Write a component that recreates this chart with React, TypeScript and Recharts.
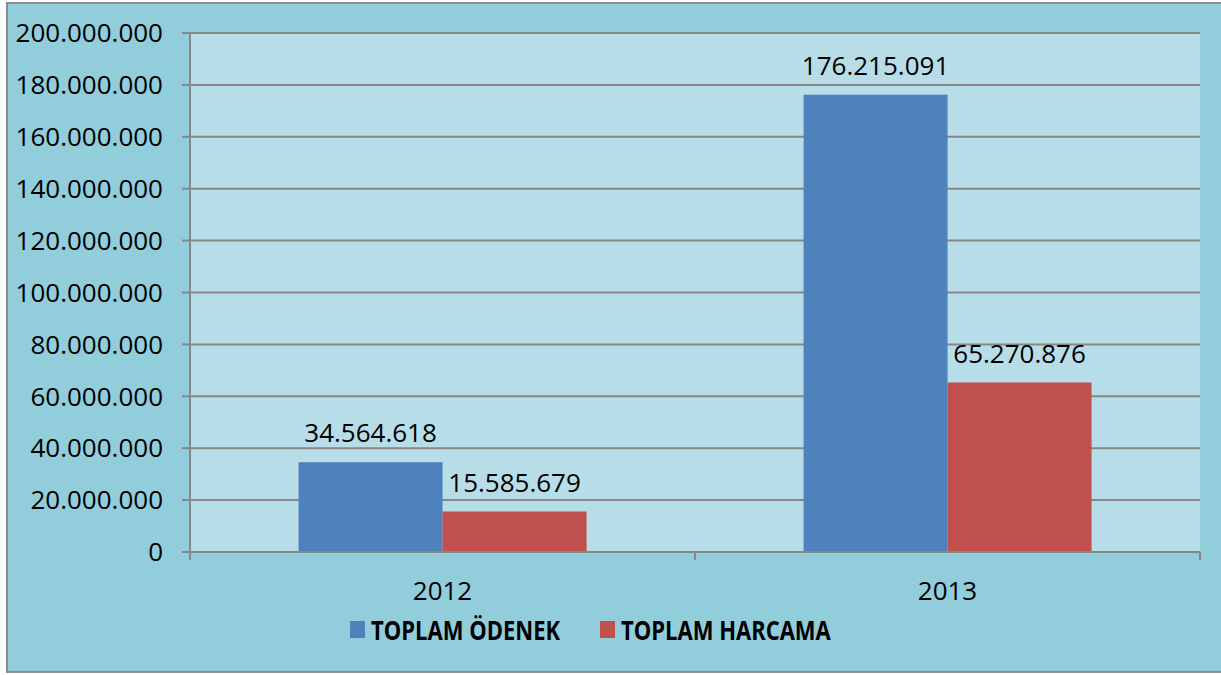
import React from 'react';
import { BarChart, Bar, XAxis, YAxis, CartesianGrid, LabelList } from 'recharts';

// values
const years = ['2012', '2013'];
const odenek = [34564618, 176215091];
const harcama = [15585679, 65270876];
const yTicks = [0, 20000000, 40000000, 60000000, 80000000, 100000000, 120000000, 140000000, 160000000, 180000000, 200000000];

const BLUE = '#4F81BD';
const RED = '#C0504D';
const OUTER_BG = '#92CDDC';
const PLOT_BG = '#B7DEE8';
const LINE = '#878787';
const FONT = '"Open Sans", sans-serif';

const TICK_SIZE = 8;
const TICK_MARGIN = 22;

const data = years.map((year, i) => ({
  year,
  odenek: odenek[i],
  harcama: harcama[i],
}));

// 34564618 -> 34.564.618
const fmt = (v: number) => String(Math.round(v)).replace(/\B(?=(\d{3})+(?!\d))/g, '.');

// category label with tick marks on the band edges, like Excel does
const YearTick = (props: any) => {
  const { x, y, payload, index, visibleTicksCount } = props;
  const half = payload?.offset ?? 0;
  const axisY = y - TICK_SIZE - TICK_MARGIN;
  const isLast = index === visibleTicksCount - 1;
  return (
    <g>
      <line x1={x - half} x2={x - half} y1={axisY} y2={axisY + TICK_SIZE} stroke={LINE} strokeWidth={2} />
      {isLast && (
        <line x1={x + half} x2={x + half} y1={axisY} y2={axisY + TICK_SIZE} stroke={LINE} strokeWidth={2} />
      )}
      <text x={x} y={y} dy="0.71em" textAnchor="middle" fill="#000" fontSize={26} fontFamily={FONT}>
        {payload.value}
      </text>
    </g>
  );
};

const legendItems = [
  { name: 'TOPLAM ÖDENEK', color: BLUE, left: 350 },
  { name: 'TOPLAM HARCAMA', color: RED, left: 600 },
];

export default function App() {
  return (
    <div style={{ position: 'absolute', left: 0, top: 0, width: 1221, height: 675, background: '#fff', overflow: 'hidden' }}>
      <div
        style={{
          position: 'absolute',
          left: 6,
          top: 2,
          width: 1230,
          height: 671,
          background: OUTER_BG,
          border: '2px solid #8c8c8c',
          boxSizing: 'border-box',
        }}
      />
      <div style={{ position: 'absolute', left: 0, top: 0 }}>
        <BarChart
          width={1221}
          height={675}
          data={data}
          margin={{ top: 33, right: 21, left: 0, bottom: 83 }}
          barCategoryGap="21.5%"
          barGap={0}
        >
          <CartesianGrid vertical={false} fill={PLOT_BG} fillOpacity={1} stroke={LINE} strokeWidth={2} />
          <XAxis
            dataKey="year"
            height={40}
            axisLine={{ stroke: LINE, strokeWidth: 2 }}
            tickLine={false}
            tickSize={TICK_SIZE}
            tickMargin={TICK_MARGIN}
            tick={<YearTick />}
            interval={0}
          />
          <YAxis
            width={190}
            domain={[0, 200000000]}
            ticks={yTicks}
            interval={0}
            tickFormatter={fmt}
            axisLine={{ stroke: LINE, strokeWidth: 2 }}
            tickLine={{ stroke: LINE, strokeWidth: 2 }}
            tickSize={TICK_SIZE}
            tickMargin={19}
            tick={{ fill: '#000', fontSize: 26, fontFamily: FONT }}
          />
          <Bar dataKey="odenek" name="TOPLAM ÖDENEK" fill={BLUE} isAnimationActive={false}>
            <LabelList dataKey="odenek" position="top" offset={20} formatter={fmt} fill="#000" fontSize={26} fontFamily={FONT} />
          </Bar>
          <Bar dataKey="harcama" name="TOPLAM HARCAMA" fill={RED} isAnimationActive={false}>
            <LabelList dataKey="harcama" position="top" offset={20} formatter={fmt} fill="#000" fontSize={26} fontFamily={FONT} />
          </Bar>
        </BarChart>
      </div>
      {legendItems.map((item) => (
        <div
          key={item.name}
          style={{
            position: 'absolute',
            left: item.left,
            top: 614,
            display: 'flex',
            alignItems: 'center',
            fontFamily: FONT,
            fontWeight: 700,
            fontSize: 22,
            color: '#000',
            whiteSpace: 'nowrap',
          }}
        >
          <span style={{ display: 'inline-block', width: 15, height: 17, background: item.color, marginRight: 6 }} />
          <span style={{ display: 'inline-block', transform: 'scaleY(1.2)' }}>{item.name}</span>
        </div>
      ))}
    </div>
  );
}
